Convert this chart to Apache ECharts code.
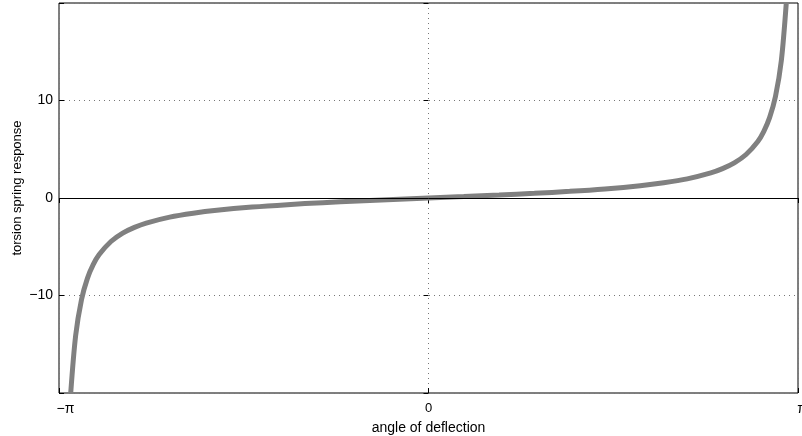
<!DOCTYPE html>
<html>
<head>
<meta charset="utf-8">
<script src="https://cdn.jsdelivr.net/npm/echarts@6/dist/echarts.min.js"></script>
<style>
  html, body { margin: 0; padding: 0; background: #fff; }
  #chart { width: 802px; height: 436px; }
</style>
</head>
<body>
<div id="chart"></div>
<script>
// angle (rad) and response
var angles = [-3.042, -3.0, -2.95, -2.9, -2.85, -2.8, -2.7, -2.6, -2.5, -2.4, -2.2, -2.0, -1.8, -1.5, -1.2, -0.9, -0.6, -0.3, 0,
              0.3, 0.6, 0.9, 1.2, 1.5, 1.8, 2.0, 2.2, 2.4, 2.5, 2.6, 2.7, 2.8, 2.85, 2.9, 2.95, 3.0, 3.042];
var response = [-20, -14.1, -10.4, -8.24, -6.81, -5.8, -4.46, -3.6, -3.01, -2.57, -1.96, -1.56, -1.26, -0.93, -0.68, -0.48, -0.31, -0.15, 0,
                0.15, 0.31, 0.48, 0.68, 0.93, 1.26, 1.56, 1.96, 2.57, 3.01, 3.6, 4.46, 5.8, 6.81, 8.24, 10.4, 14.1, 20];
var xTickLabels = ["\u2212\u03c0", "0", "\u03c0"];
var yTickLabels = { "-10": "\u221210", "0": "0", "10": "10" };

var chart = echarts.init(document.getElementById("chart"));
var font = "'Liberation Sans', Arial, Helvetica, sans-serif";

var points = angles.map(function (a, i) { return [a, response[i]]; });

chart.setOption({
    animation: false,
    grid: {
        left: 59, right: 4, top: 3, bottom: 43,
        outerBoundsMode: "none",
        containLabel: false,
        show: true,
        borderColor: "#000",
        borderWidth: 1,
        backgroundColor: "#fff"
    },
    xAxis: [{
        type: "value",
        min: -Math.PI,
        max: Math.PI,
        interval: Math.PI,
        axisLine: { show: false, onZero: false },
        axisTick: { show: true, inside: true, length: 5, lineStyle: { color: "#000" } },
        splitLine: { show: true, lineStyle: { color: "#777", type: [1, 4], width: 1 } },
        axisLabel: {
            margin: 9,
            color: "#000",
            fontSize: 13,
            fontFamily: font,
            formatter: function (v) {
                if (v < -1) return "{l|" + xTickLabels[0] + "}";
                if (v > 1) return "{r|" + xTickLabels[2] + "}";
                return xTickLabels[1];
            },
            rich: {
                l: { fontSize: 14, fontFamily: font, color: "#000", padding: [0, 0, 0, 13] },
                r: { fontSize: 14, fontFamily: font, color: "#000", padding: [0, 0, 0, 8] }
            }
        },
        name: "angle of deflection",
        nameLocation: "middle",
        nameGap: 25,
        nameTextStyle: { color: "#000", fontSize: 14, fontFamily: font }
    }, {
        type: "value",
        position: "top",
        min: -Math.PI,
        max: Math.PI,
        interval: Math.PI,
        axisLine: { show: false },
        axisTick: { show: true, inside: true, length: 5, lineStyle: { color: "#000" } },
        axisLabel: { show: false },
        splitLine: { show: false }
    }],
    yAxis: [{
        type: "value",
        min: -20,
        max: 20,
        interval: 10,
        axisLine: { show: false, onZero: false },
        axisTick: { show: true, inside: true, length: 5, lineStyle: { color: "#000" } },
        splitLine: { show: true, lineStyle: { color: "#777", type: [1, 4], width: 1 } },
        axisLabel: {
            margin: 6,
            color: "#000",
            fontSize: 14,
            fontFamily: font,
            formatter: function (v) { return yTickLabels[String(v)] || ""; }
        },
        name: "torsion spring response",
        nameLocation: "middle",
        nameGap: 35,
        nameMoveOverlap: false,
        nameTextStyle: { color: "#000", fontSize: 13, fontFamily: font, padding: [0, 0, 0, 20] }
    }, {
        type: "value",
        position: "right",
        min: -20,
        max: 20,
        interval: 10,
        axisLine: { show: false },
        axisTick: { show: true, inside: true, length: 5, lineStyle: { color: "#000" } },
        axisLabel: { show: false },
        splitLine: { show: false }
    }],
    series: [{
        type: "line",
        data: points,
        smooth: 0.3,
        showSymbol: false,
        clip: true,
        lineStyle: { color: "#808080", width: 5 },
        markLine: {
            silent: true,
            symbol: "none",
            label: { show: false },
            lineStyle: { color: "#000", type: "solid", width: 1 },
            data: [{ yAxis: 0 }]
        }
    }]
});
</script>
</body>
</html>
